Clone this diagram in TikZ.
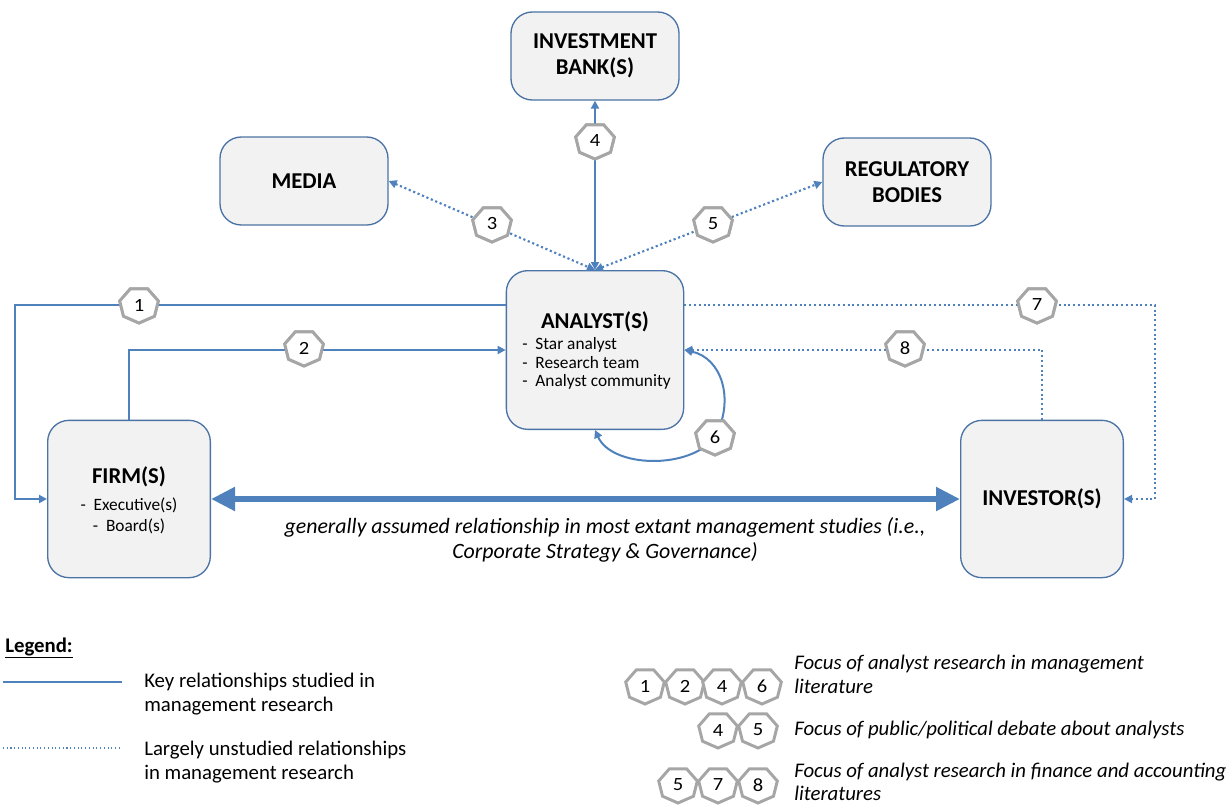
\documentclass[tikz,border=0pt]{standalone}
\usepackage{fontspec}
\setmainfont{Carlito}
\usetikzlibrary{shapes.geometric,arrows.meta}
\definecolor{linkblue}{RGB}{79,129,189}
\definecolor{boxline}{RGB}{75,115,165}
\definecolor{boxfill}{RGB}{242,242,242}
\definecolor{badgegray}{RGB}{166,166,166}
\tikzset{
  box/.style={draw=boxline,line width=1pt,fill=boxfill,rounded corners=16pt,
    align=center,font=\bfseries\fontsize{17}{21.5}\selectfont},
  badge/.style={regular polygon,regular polygon sides=7,shape border rotate=180,
    draw=badgegray,line width=2.2pt,fill=white,inner sep=0pt,minimum size=27pt,
    xscale=1.1,font=\fontsize{14}{16}\selectfont},
  keyline/.style={draw=linkblue,line width=1.5pt},
  openline/.style={draw=linkblue,line width=1.6pt,dotted},
  tip/.style={-{Triangle[length=6pt,width=6pt]}},
  tips/.style={{Triangle[length=6pt,width=6pt]}-{Triangle[length=6pt,width=6pt]}},
  legtext/.style={anchor=west,align=left,inner sep=0pt,font=\fontsize{15.6}{18}\selectfont},
}
\def\bullets#1{\fontsize{13}{14}\selectfont\mdseries\begin{tabular}{@{}l@{}}#1\end{tabular}}
\begin{document}
\begin{tikzpicture}[x=0.75pt,y=-0.75pt]
\useasboundingbox (0,0) rectangle (1232,807);
% actors
\node[box,minimum width=126pt,minimum height=66pt] (bank) at (595,56) {\raisebox{-2pt}{INVESTMENT}\\BANK(S)};
\node[box,minimum width=126pt,minimum height=66pt] (media) at (304,181) {MEDIA};
\node[box,minimum width=126pt,minimum height=66pt] (reg) at (907,182) {\raisebox{-2pt}{REGULATORY}\\BODIES};
\node[box,minimum width=133pt,minimum height=119pt] (ana) at (595,350) {};
\node[font=\bfseries\fontsize{17}{20}\selectfont] (anat) at (595,322) {ANALYST(S)};
\node[anchor=north west,inner sep=0pt] (anal) at (522,336)
  {\bullets{-\ \ Star analyst\\-\ \ Research team\\-\ \ Analyst community}};
\node[box,minimum width=122pt,minimum height=118pt] (firm) at (129,499) {};
\node[font=\bfseries\fontsize{17}{20}\selectfont] (firmt) at (129,477) {FIRM(S)};
\node[inner sep=0pt,align=center,font=\fontsize{13}{16}\selectfont] (firml) at (129,516)
  {-\ \ Executive(s)\\-\ \ Board(s)};
\node[box,minimum width=122pt,minimum height=118pt] (inv) at (1042,499) {INVESTOR(S)};
% badges on the links
\node[badge] (b1) at (139,305) {1};
\node[badge] (b2) at (304,348) {2};
\node[badge] (b3) at (492,224) {3};
\node[badge] (b4) at (595,141) {4};
\node[badge] (b5) at (713,224) {5};
\node[badge] (b6) at (715,437) {6};
\node[badge] (b7) at (1037,305) {7};
\node[badge] (b8) at (905,348) {8};
\coordinate (c1) at (15,499);
\coordinate (c7) at (1155,499);
% links
\draw[keyline,tip] (b1 -| ana.west) -| (c1) -- (firm.west);
\draw[keyline,tip] (firm.north) |- (ana.west);
\draw[openline,tips] (media.east) -- (ana.north);
\draw[keyline,tips] (ana.north) -- (bank.south);
\draw[openline,tips] (ana.north) -- (reg.west);
\draw[keyline,tips] (ana.south) .. controls (612,468) and (690,470) .. (b6.center)
  .. controls (735,400) and (722,358) .. (ana.east);
\draw[openline,line width=1.3pt,tip] (b7 -| ana.east) -| (c7) -- (inv.east);
\draw[openline,line width=1.3pt,tip] (inv.north) |- (ana.east);
\draw[draw=linkblue,line width=5pt,{Triangle[length=18pt,width=17pt]}-{Triangle[length=18pt,width=17pt]}]
  (firm.east) -- (inv.west);
% redraw badges on top
\foreach \n in {1,...,8} {\node[badge] at (b\n) {\n};}
\node[font=\itshape\fontsize{16.4}{19}\selectfont,align=center] (assume) at (605,540)
  {generally assumed relationship in most extant management studies (i.e.,\\Corporate Strategy \& Governance)};
% legend
\node[anchor=west,inner sep=0pt,font=\bfseries\fontsize{15.6}{18}\selectfont] (leg) at (5,648) {\underline{Legend:}};
\coordinate (k1) at (3,682);
\coordinate (k2) at (122,682);
\coordinate (u1) at (3,748);
\coordinate (u2) at (122,748);
\draw[keyline,line width=1pt] (k1) -- (k2);
\draw[draw=linkblue,line width=0.8pt,dotted] (u1) -- (u2);
\node[legtext] (keytxt) at (144,694) {Key relationships studied in\\management research};
\node[legtext] (untxt) at (144,762) {Largely unstudied relationships\\in management research};
\foreach \n/\x in {1/645,2/685,4/722,6/762} {\node[badge] (la\n) at (\x,686) {\n};}
\foreach \n/\x in {4/718,5/758} {\node[badge] (lb\n) at (\x,730) {\n};}
\foreach \n/\x in {5/678,7/718,8/758} {\node[badge] (lc\n) at (\x,785) {\n};}
\node[legtext,font=\itshape\fontsize{15.6}{18}\selectfont] (f1) at (794,674)
  {Focus of analyst research in management\\literature};
\node[legtext,font=\itshape\fontsize{15.6}{18}\selectfont] (f2) at (794,730)
  {Focus of public/political debate about analysts};
\node[legtext,font=\itshape\fontsize{15.6}{17.5}\selectfont] (f3) at (794,782)
  {Focus of analyst research in finance and accounting\\literatures};
\end{tikzpicture}
\end{document}
